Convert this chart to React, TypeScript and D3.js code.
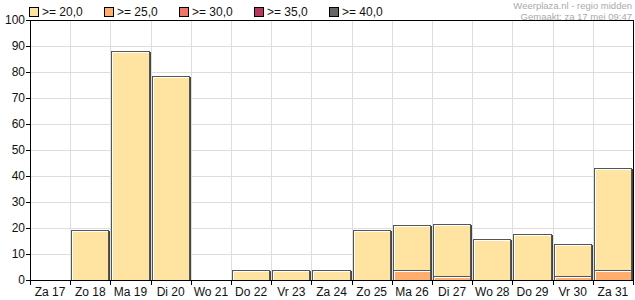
import React from "react";
import * as d3 from "d3";

const categories = ["Za 17", "Zo 18", "Ma 19", "Di 20", "Wo 21", "Do 22", "Vr 23", "Za 24", "Zo 25", "Ma 26", "Di 27", "Wo 28", "Do 29", "Vr 30", "Za 31"];
const ge20 = [0, 19.1, 88.2, 78.6, 0, 3.8, 3.8, 3.8, 19.1, 21, 21.4, 15.6, 17.6, 13.7, 43];
const ge25 = [0, 0, 0, 0, 0, 0, 0, 0, 0, 3.7, 1.7, 0, 0, 1.7, 3.7];
const ge30 = [0, 0, 0, 0, 0, 0, 0, 0, 0, 0, 0, 0, 0, 0, 0];
const ge35 = [0, 0, 0, 0, 0, 0, 0, 0, 0, 0, 0, 0, 0, 0, 0];
const ge40 = [0, 0, 0, 0, 0, 0, 0, 0, 0, 0, 0, 0, 0, 0, 0];
const seriesNames = [">= 20,0", ">= 25,0", ">= 30,0", ">= 35,0", ">= 40,0"];
const seriesColors = ["#ffe3a0", "#ffae6e", "#f07468", "#b8365f", "#666666"];
const yTicks = [0, 10, 20, 30, 40, 50, 60, 70, 80, 90, 100];
const titleLines = ["Weerplaza.nl - regio midden", "Gemaakt: za 17 mei 09:47"];

const W = 635, H = 300;
const left = 30, right = 633, top = 20, bottom = 280;
const font = "Arial, 'Liberation Sans', sans-serif";

export default function App() {
  const x = d3.scaleBand<string>().domain(categories).range([left, right]).padding(0);
  const y = d3.scaleLinear().domain([0, 100]).range([bottom, top]);
  const series = [ge20, ge25, ge30, ge35, ge40];
  const bw = x.bandwidth();

  return (
    <svg width={W} height={H} style={{ position: "absolute", left: 0, top: 0, background: "#fff" }} fontFamily={font}>
      <rect x={0} y={0} width={W} height={H} fill="#fff" />
      {/* grid */}
      {yTicks.map((t) => (
        <line key={"gy" + t} x1={left} x2={right} y1={Math.round(y(t)) + 0.5} y2={Math.round(y(t)) + 0.5} stroke="#dddddd" />
      ))}
      {categories.map((c, i) => i > 0 ? (
        <line key={"gx" + c} x1={Math.round(x(c)!) + 0.5} x2={Math.round(x(c)!) + 0.5} y1={top} y2={bottom} stroke="#dddddd" />
      ) : null)}
      {/* bars */}
      {series.map((vals, si) =>
        vals.map((v, i) => {
          if (v <= 0) return null;
          const x0 = Math.round(x(categories[i])!) + 1;
          const x1 = Math.round(x(categories[i])! + bw) - 1;
          const yt = Math.round(y(v));
          const yb = bottom;
          return (
            <g key={si + "-" + i}>
              <rect x={x0 + 0.5} y={yt + 0.5} width={x1 - x0 - 1} height={yb - yt} fill={seriesColors[si]} stroke="#555" strokeWidth={1} />
              <line x1={x1 + 0.5} x2={x1 + 0.5} y1={yt + 1} y2={yb} stroke="#444" strokeWidth={1} />
              <path d={`M${x0 + 1.5},${yb} V${yt + 1.5} H${x1 - 1}`} fill="none" stroke="#ffffff" strokeWidth={1} />
            </g>
          );
        })
      )}
      {/* frame */}
      <line x1={left} x2={right} y1={top + 0.5} y2={top + 0.5} stroke="#000" />
      <line x1={right + 0.5} x2={right + 0.5} y1={top} y2={bottom} stroke="#000" />
      <line x1={left + 0.5} x2={left + 0.5} y1={top} y2={bottom + 1} stroke="#000" />
      <line x1={left - 4} x2={right + 1} y1={bottom + 0.5} y2={bottom + 0.5} stroke="#000" />
      {/* y ticks */}
      {yTicks.map((t) => (
        <g key={"yt" + t}>
          <line x1={left - 4} x2={left} y1={Math.round(y(t)) + 0.5} y2={Math.round(y(t)) + 0.5} stroke="#000" />
          <text x={left - 5} y={y(t) + 4} fontSize={12} textAnchor="end" fill="#111">{t}</text>
        </g>
      ))}
      {/* x ticks */}
      {categories.map((c, i) => (
        <g key={"xt" + c}>
          <line x1={Math.round(x(c)!) + 0.5} x2={Math.round(x(c)!) + 0.5} y1={bottom} y2={bottom + 5} stroke="#000" />
          <text x={x(c)! + bw / 2} y={bottom + 16} fontSize={12} textAnchor="middle" fill="#111">{c}</text>
        </g>
      ))}
      <line x1={right + 0.5} x2={right + 0.5} y1={bottom} y2={bottom + 5} stroke="#000" />
      {/* legend */}
      {seriesNames.map((n, i) => (
        <g key={"lg" + n} transform={`translate(${29 + i * 75},0)`}>
          <rect x={0.5} y={7.5} width={9} height={9} fill={seriesColors[i]} stroke="#000" />
          <text x={13} y={16} fontSize={12} fill="#111">{n}</text>
        </g>
      ))}
      {/* title */}
      <text x={632} y={9} fontSize={9.5} textAnchor="end" fill="#aaaaaa">{titleLines[0]}</text>
      <text x={632} y={19.5} fontSize={9.5} textAnchor="end" fill="#aaaaaa">{titleLines[1]}</text>
    </svg>
  );
}
